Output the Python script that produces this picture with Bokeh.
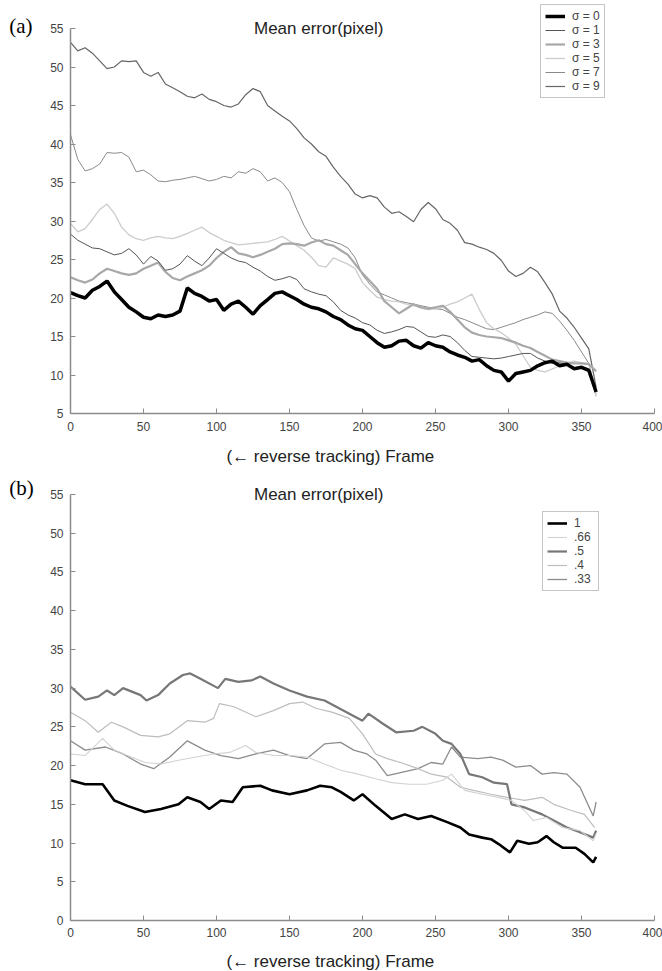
from bokeh.plotting import figure
from bokeh.models import Range1d, FixedTicker, Label, Legend, LegendItem
from bokeh.layouts import column
from bokeh.embed import file_html
from bokeh.resources import INLINE

FONT = "Liberation Sans"

# ---------------- Panel (a) data ----------------
frames_a = list(range(0, 361, 5))
sigma0 = [20.7, 20.3, 20.0, 21.0, 21.5, 22.2, 20.8, 19.8, 18.8, 18.2,
          17.5, 17.3, 17.8, 17.6, 17.8, 18.3, 21.3, 20.6, 20.2, 19.6,
          19.8, 18.4, 19.2, 19.6, 18.8, 17.9, 19.0, 19.8, 20.6, 20.8,
          20.3, 19.8, 19.2, 18.8, 18.6, 18.2, 17.6, 17.2, 16.5, 16.0,
          15.8, 15.0, 14.2, 13.6, 13.8, 14.4, 14.5, 13.8, 13.5, 14.2,
          13.8, 13.6, 13.0, 12.6, 12.3, 11.8, 12.0, 11.2, 10.6, 10.4,
          9.2, 10.2, 10.4, 10.6, 11.2, 11.6, 11.8, 11.2, 11.4, 10.8,
          11.0, 10.6, 7.8]
sigma1 = [28.3, 27.5, 27.0, 26.5, 26.4, 26.0, 25.6, 25.8, 26.4, 25.6,
          24.4, 25.4, 24.8, 23.6, 23.8, 24.4, 25.5, 24.8, 24.2, 25.2,
          26.4, 25.8, 25.2, 24.8, 24.6, 24.0, 23.5, 22.8, 22.3, 22.5,
          22.8, 22.4, 21.2, 20.8, 20.5, 20.3, 19.5, 18.4, 17.8, 17.4,
          16.8, 16.5, 15.8, 15.4, 15.6, 15.9, 16.3, 16.2, 15.6, 15.0,
          14.9, 15.2, 15.0, 14.2, 13.2, 12.4, 12.3, 12.2, 12.1, 12.2,
          12.4, 12.6, 12.8, 12.8, 12.2, 11.8, 11.5, 11.6, 11.3, 11.0,
          11.1, 10.8, 8.0]
sigma3 = [22.7, 22.3, 22.0, 22.4, 23.2, 23.8, 23.5, 23.2, 23.0, 23.2,
          23.8, 24.2, 24.6, 23.4, 22.6, 22.3, 22.8, 23.2, 23.6, 24.2,
          25.2, 26.0, 26.6, 25.8, 25.6, 25.3, 25.6, 26.0, 26.4, 27.0,
          27.1, 27.0, 26.8, 27.2, 27.5, 27.0, 26.8, 26.2, 25.6, 24.4,
          23.2, 22.2, 21.2, 19.6, 18.8, 18.0, 18.6, 19.2, 18.8, 18.6,
          18.8, 19.0, 18.2, 17.2, 16.2, 15.5, 15.2, 15.0, 14.9, 14.8,
          14.5, 14.2, 13.8, 13.5, 13.0, 12.5, 12.0, 11.8, 11.6, 11.5,
          11.5, 11.4, 10.5]
sigma5 = [29.7, 28.6, 29.0, 30.2, 31.5, 32.2, 31.0, 29.2, 28.2, 27.7,
          27.5, 27.8, 28.0, 27.8, 27.7, 28.0, 28.4, 28.8, 29.2, 28.5,
          28.0, 27.5, 27.2, 26.9, 27.0, 27.1, 27.2, 27.3, 27.6, 28.0,
          27.4, 26.8, 26.2, 25.3, 24.2, 24.0, 25.2, 24.8, 24.4, 23.8,
          22.0, 21.0, 20.1, 19.8, 19.6, 19.5, 19.2, 19.0, 18.7, 18.5,
          18.6, 18.8, 19.2, 19.5, 20.0, 20.5, 18.5, 16.8, 16.0, 15.5,
          14.8, 14.0, 12.5, 11.0, 10.6, 10.4, 10.8, 11.2, 11.5, 11.8,
          11.6, 11.5, 7.2]
sigma7 = [41.2, 38.0, 36.5, 36.8, 37.4, 38.9, 38.8, 38.9, 38.3, 36.4,
          36.6, 36.0, 35.2, 35.1, 35.3, 35.4, 35.6, 35.8, 35.5, 35.2,
          35.4, 35.8, 35.6, 36.4, 36.2, 36.8, 36.4, 35.2, 35.6, 35.0,
          33.8, 31.5, 29.4, 27.8, 27.4, 27.6, 27.3, 27.0, 26.5, 25.2,
          23.0, 21.8, 20.8, 20.4, 20.0, 19.6, 19.4, 19.2, 19.0, 18.8,
          18.6, 18.5, 18.0, 17.5, 17.2, 16.8, 16.4, 16.0, 15.9, 16.2,
          16.5, 16.8, 17.2, 17.5, 17.8, 18.2, 18.0, 17.0, 15.8, 14.5,
          13.0, 11.5, 7.5]
sigma9 = [53.2, 52.1, 52.5, 51.8, 50.8, 49.8, 50.0, 50.8, 50.7, 50.8,
          49.3, 48.8, 49.3, 47.8, 47.3, 46.8, 46.2, 46.0, 46.5, 45.8,
          45.5, 45.0, 44.8, 45.2, 46.4, 47.2, 46.8, 45.0, 44.3, 43.6,
          43.0, 42.0, 40.8, 40.0, 39.0, 38.4, 37.0, 35.8, 34.8, 33.5,
          33.0, 33.3, 33.0, 31.8, 31.0, 31.2, 30.6, 29.9, 31.5, 32.4,
          31.6, 30.2, 29.7, 28.8, 27.2, 27.0, 26.6, 26.3, 25.8, 24.9,
          23.5, 22.8, 23.2, 24.0, 23.4, 22.0, 20.5, 18.3, 17.4, 16.2,
          14.8, 13.4, 8.4]
labels_a = ["\u03c3 = 0", "\u03c3 = 1", "\u03c3 = 3", "\u03c3 = 5", "\u03c3 = 7", "\u03c3 = 9"]

# ---------------- Panel (b) data ----------------
f_b1 = [0, 10, 22, 30, 39, 51, 62, 74, 80, 89, 95, 103, 111, 118, 130, 138, 150, 162, 171, 179,
        185, 194, 200, 209, 220, 229, 238, 247, 258, 267, 273, 282, 288, 293, 301, 306, 314, 320,
        326, 331, 337, 346, 352, 358, 360]
v_b1 = [18.1, 17.6, 17.6, 15.5, 14.8, 14.0, 14.4, 15.0, 15.9, 15.3, 14.4, 15.5, 15.3, 17.2, 17.4,
        16.8, 16.3, 16.8, 17.4, 17.2, 16.6, 15.5, 16.3, 14.8, 13.1, 13.7, 13.1, 13.5, 12.7, 12.0,
        11.1, 10.7, 10.5, 9.9, 8.8, 10.3, 9.9, 10.1, 10.9, 10.1, 9.4, 9.4, 8.6, 7.5, 8.2]
f_b66 = [0, 10, 22, 30, 39, 51, 62, 74, 86, 98, 109, 120, 127, 139, 150, 162, 174, 185, 197, 209,
         220, 232, 244, 255, 261, 270, 282, 293, 302, 311, 317, 326, 337, 349, 358, 360]
v_b66 = [21.5, 21.3, 23.5, 22.0, 21.3, 20.4, 20.2, 20.7, 21.1, 21.5, 21.7, 22.6, 21.7, 21.3, 21.3,
         21.1, 20.2, 19.4, 18.9, 18.3, 17.8, 17.6, 17.6, 18.1, 18.9, 16.8, 16.3, 15.9, 15.5, 14.2,
         12.9, 13.3, 12.0, 11.6, 10.3, 11.2]
f_b5 = [0, 10, 19, 25, 30, 36, 48, 52, 60, 68, 77, 82, 89, 101, 106, 115, 124, 130, 139, 150,
        162, 174, 182, 191, 200, 204, 214, 223, 235, 241, 250, 255, 261, 267, 273, 282, 290, 299,
        302, 311, 323, 331, 340, 349, 358, 360]
v_b5 = [30.2, 28.5, 28.9, 29.7, 29.1, 30.0, 29.1, 28.4, 29.1, 30.6, 31.7, 31.9, 31.2, 30.0, 31.2,
        30.8, 31.0, 31.5, 30.6, 29.7, 28.9, 28.4, 27.6, 26.7, 25.8, 26.7, 25.4, 24.3, 24.5, 25.0,
        24.1, 23.2, 22.8, 21.5, 18.9, 18.5, 17.8, 17.6, 15.0, 14.6, 13.7, 12.9, 12.0, 11.4, 10.7, 11.6]
f_b4 = [0, 10, 19, 28, 36, 48, 60, 68, 80, 92, 98, 102, 112, 127, 139, 150, 159, 168, 179, 191,
        200, 209, 217, 226, 238, 247, 258, 267, 276, 288, 299, 311, 323, 331, 343, 352, 359]
v_b4 = [26.9, 25.8, 24.3, 25.6, 25.0, 23.9, 23.7, 24.1, 25.8, 25.6, 26.1, 28.0, 27.6, 26.3, 27.1,
        28.0, 28.2, 27.4, 26.9, 26.1, 24.1, 21.5, 20.9, 20.4, 19.6, 18.9, 18.5, 17.2, 16.8, 16.3,
        15.9, 15.5, 15.9, 15.0, 14.2, 13.7, 12.0]
f_b33 = [0, 10, 24, 36, 48, 57, 68, 80, 92, 103, 115, 127, 139, 150, 162, 174, 185, 194, 203, 209,
         217, 226, 238, 247, 255, 261, 267, 279, 288, 296, 305, 315, 323, 331, 340, 349, 358, 360]
v_b33 = [23.2, 22.0, 22.4, 21.5, 20.2, 19.6, 21.1, 23.2, 22.0, 21.3, 20.9, 21.5, 22.0, 21.3, 20.9,
         22.8, 23.0, 22.0, 21.5, 20.7, 18.7, 19.1, 19.6, 20.4, 20.2, 22.4, 21.1, 20.9, 21.1, 20.7,
         19.8, 20.0, 18.9, 19.1, 18.9, 17.2, 13.5, 15.3]
labels_b = ["1", ".66", ".5", ".4", ".33"]

x_ticks = [0, 50, 100, 150, 200, 250, 300, 350, 400]
y_ticks_a = [5, 10, 15, 20, 25, 30, 35, 40, 45, 50, 55]
y_ticks_b = [0, 5, 10, 15, 20, 25, 30, 35, 40, 45, 50, 55]
title_text = "Mean error(pixel)"
xlabel_text = "(\u2190 reverse tracking) Frame"

# the frame covers the whole canvas; the axes sit at fixed data positions
X0, X1 = -47.95, 405.47


def make_fig(height, y0, y1, ybounds, yticks):
    p = figure(width=662, height=height, x_range=Range1d(X0, X1), y_range=Range1d(y0, y1),
               output_backend="svg", toolbar_location=None,
               min_border_left=0, min_border_right=0, min_border_top=0, min_border_bottom=0)
    p.outline_line_color = None
    p.xgrid.grid_line_color = None
    p.ygrid.grid_line_color = None
    p.background_fill_color = "white"
    p.border_fill_color = "white"
    p.xaxis.ticker = FixedTicker(ticks=x_ticks)
    p.yaxis.ticker = FixedTicker(ticks=yticks)
    p.xaxis.fixed_location = ybounds[0]
    p.yaxis.fixed_location = 0
    p.xaxis.bounds = (0, 400)
    p.yaxis.bounds = ybounds
    for ax in (p.xaxis[0], p.yaxis[0]):
        ax.axis_line_color = "#8c8c8c"
        ax.axis_line_width = 1.5
        ax.major_tick_line_color = "#8c8c8c"
        ax.major_tick_line_width = 1
        ax.major_tick_in = 5
        ax.major_tick_out = 0
        ax.minor_tick_line_color = None
        ax.major_label_text_font = FONT
        ax.major_label_text_font_size = "12px"
        ax.major_label_text_color = "#444444"
    p.xaxis.major_label_standoff = 8
    p.yaxis.major_label_standoff = 7
    return p


def style_legend(lg):
    lg.border_line_color = "#8c8c8c"
    lg.border_line_width = 1.2
    lg.background_fill_color = "white"
    lg.background_fill_alpha = 1
    lg.label_text_font = FONT
    lg.label_text_font_size = "12px"
    lg.label_text_color = "#444444"
    lg.glyph_width = 20
    lg.glyph_height = 12
    lg.label_height = 12
    lg.spacing = 0
    lg.padding = 4
    lg.margin = 0
    lg.label_standoff = 7


def add_texts(p, tag, tag_y, xlab_y):
    p.add_layout(Label(x=-42, y=tag_y, text=tag, text_font="Liberation Serif",
                       text_font_size="21px", text_color="#000000", text_baseline="alphabetic"))
    p.add_layout(Label(x=170, y=55, text=title_text, text_font=FONT, text_font_size="17px",
                       text_color="#222222", text_align="center", text_baseline="alphabetic"))
    p.add_layout(Label(x=178, y=xlab_y, text=xlabel_text, text_font=FONT, text_font_size="17px",
                       text_color="#222222", text_align="center", text_baseline="alphabetic"))


# ---------------- Figure (a) ----------------
pa = make_fig(467, -2.013, 58.64, (5, 55), y_ticks_a)
styles_a = [("#000000", 3.5), ("#555555", 1.0), ("#a8a8a8", 2.2),
            ("#cccccc", 1.3), ("#8a8a8a", 1.0), ("#666666", 1.2)]
series_a = [sigma0, sigma1, sigma3, sigma5, sigma7, sigma9]
rends_a = {}
for i in reversed(range(len(series_a))):
    c, w = styles_a[i]
    rends_a[i] = pa.line(frames_a, series_a[i], line_color=c, line_width=w)
items_a = [LegendItem(label=labels_a[i], renderers=[rends_a[i]]) for i in range(len(series_a))]
lga = Legend(items=items_a, location=(540, 369))
style_legend(lga)
pa.add_layout(lga)
add_texts(pa, "(a)", 55.3, -0.58)

# ---------------- Figure (b) ----------------
pb = make_fig(504, -6.585, 58.486, (0, 55), y_ticks_b)
series_b = [(f_b1, v_b1, "#000000", 2.6), (f_b66, v_b66, "#d2d2d2", 1.1),
            (f_b5, v_b5, "#777777", 2.2), (f_b4, v_b4, "#bdbdbd", 1.2),
            (f_b33, v_b33, "#8c8c8c", 1.3)]
rends_b = {}
for i in reversed(range(len(series_b))):
    fx, vy, c, w = series_b[i]
    rends_b[i] = pb.line(fx, vy, line_color=c, line_width=w)
items_b = [LegendItem(label=labels_b[i], renderers=[rends_b[i]]) for i in range(len(series_b))]
lgb = Legend(items=items_b, location=(542, 380))
style_legend(lgb)
pb.add_layout(lgb)
add_texts(pb, "(b)", 55.9, -5.29)

layout = column(pa, pb, spacing=0)
open("out.html", "w").write(file_html(layout, INLINE))
